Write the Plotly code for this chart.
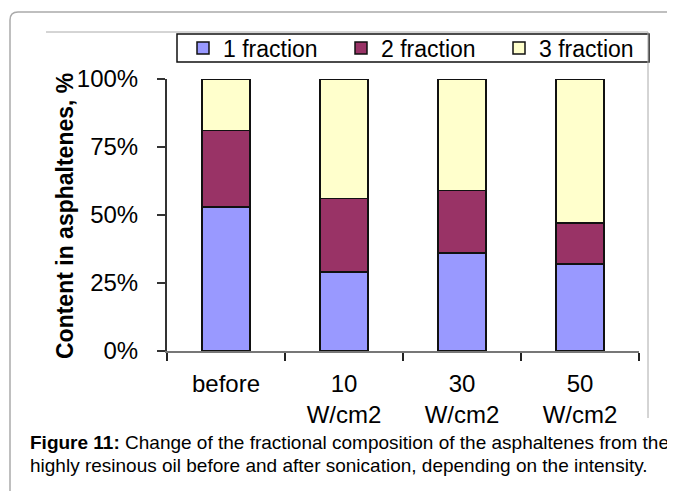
import plotly.graph_objects as go

# categories and stacked fractions (percent of asphaltenes)
categories = ["before", "10<br>W/cm2", "30<br>W/cm2", "50<br>W/cm2"]
fraction_1 = [53, 29, 36, 32]
fraction_2 = [28, 27, 23, 15]
fraction_3 = [19, 44, 41, 53]

series_names = ["1 fraction", "2 fraction", "3 fraction"]
series_colors = ["#9999FF", "#993366", "#FFFFCC"]

y_ticks = [0, 25, 50, 75, 100]
y_tick_labels = ["0%", "25%", "50%", "75%", "100%"]

# the page body has an 8px margin, so the figure is drawn 8px smaller
OFF = 8
W, H = 675 - OFF, 491 - OFF
FONT = "Liberation Sans, Arial, sans-serif"


def px_x(x):
    # window pixel -> paper fraction
    return (x - OFF) / W


def px_y(y):
    return 1 - (y - OFF) / H


fig = go.Figure()
for name, vals, col in zip(series_names, [fraction_1, fraction_2, fraction_3], series_colors):
    fig.add_trace(go.Bar(
        x=categories,
        y=vals,
        name=name,
        width=0.41,
        marker=dict(color=col, line=dict(color="#111111", width=1.5)),
    ))

fig.update_layout(
    width=W,
    height=H,
    barmode="stack",
    margin=dict(l=0, r=0, t=0, b=0),
    paper_bgcolor="white",
    plot_bgcolor="white",
    font=dict(family=FONT, color="black"),
    xaxis=dict(
        domain=[px_x(167), px_x(639)],
        range=[-0.5, 3.5],
        tickson="boundaries",
        ticks="outside",
        ticklen=8,
        tickwidth=2,
        tickcolor="#222222",
        showline=True,
        linecolor="#777777",
        linewidth=1.5,
        showgrid=False,
        tickfont=dict(size=24),
        ticklabelstandoff=10,
        automargin=False,
    ),
    yaxis=dict(
        domain=[px_y(351), px_y(79)],
        range=[0, 100],
        tickvals=y_ticks,
        ticktext=y_tick_labels,
        ticks="outside",
        ticklen=8,
        tickwidth=1.5,
        tickcolor="#333333",
        showline=True,
        linecolor="#333333",
        linewidth=2,
        showgrid=False,
        zeroline=False,
        tickfont=dict(size=24),
        ticklabelstandoff=14,
        automargin=False,
    ),
    legend=dict(
        orientation="h",
        x=px_x(183),
        xanchor="left",
        y=px_y(48),
        yanchor="middle",
        bgcolor="rgba(0,0,0,0)",
        borderwidth=0,
        font=dict(size=23),
        entrywidth=113,
        traceorder="normal",
    ),
)

# legend frame
fig.add_shape(
    type="rect",
    xref="paper", yref="paper",
    x0=px_x(177), x1=px_x(649), y0=px_y(62), y1=px_y(34),
    fillcolor="white",
    line=dict(color="#111111", width=1.5),
)

# y axis title
fig.add_annotation(
    text="<b>Content in asphaltenes, %</b>",
    textangle=-90,
    xref="paper", yref="paper",
    x=px_x(65), y=px_y(216),
    xanchor="center", yanchor="middle",
    showarrow=False,
    font=dict(size=23),
)

# caption
fig.add_annotation(
    text="<b>Figure 11:</b> Change of the fractional composition of the asphaltenes from the",
    xref="paper", yref="paper",
    x=px_x(28), y=px_y(442),
    xanchor="left", yanchor="middle",
    showarrow=False,
    font=dict(size=19),
)
fig.add_annotation(
    text="highly resinous oil before and after sonication, depending on the intensity.",
    xref="paper", yref="paper",
    x=px_x(28), y=px_y(465),
    xanchor="left", yanchor="middle",
    showarrow=False,
    font=dict(size=19),
)

# outer rounded frame and the chart image border
fig.add_shape(
    type="path",
    xref="paper", yref="paper",
    path=f"M {px_x(10)},{px_y(495)} L {px_x(10)},{px_y(20)} "
         f"Q {px_x(10)},{px_y(12)} {px_x(18)},{px_y(12)} L {px_x(680)},{px_y(12)}",
    line=dict(color="#aaaaaa", width=1.5),
)
fig.add_shape(
    type="path",
    xref="paper", yref="paper",
    path=f"M {px_x(46)},{px_y(32)} L {px_x(648)},{px_y(32)} L {px_x(648)},{px_y(418)}",
    line=dict(color="#aaaaaa", width=1),
)

fig.write_html("out.html")
